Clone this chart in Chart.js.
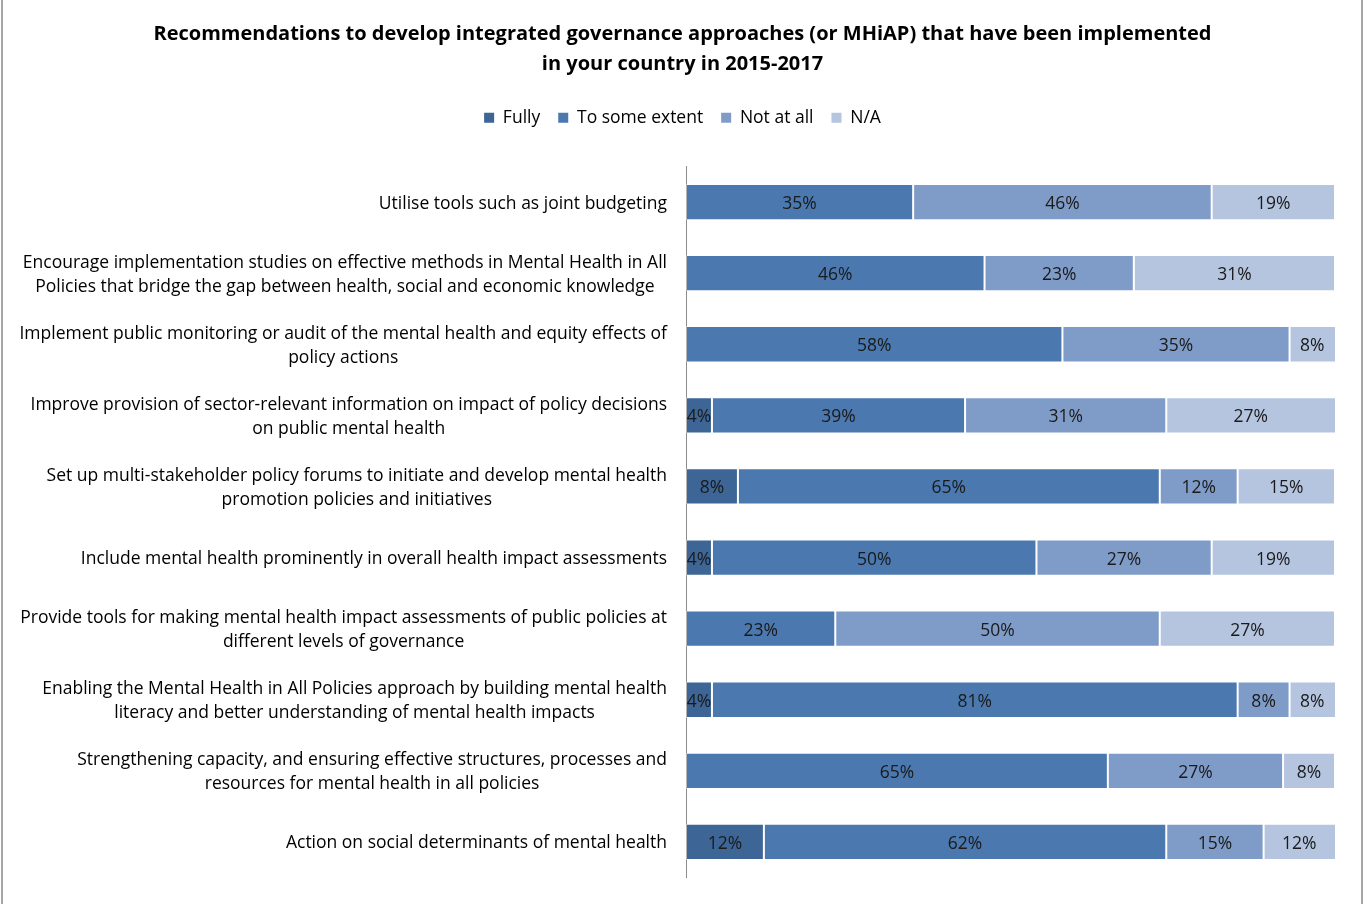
<!DOCTYPE html>
<html>
<head>
<meta charset="utf-8">
<script src="https://cdn.jsdelivr.net/npm/chart.js@4.4.1/dist/chart.umd.min.js"></script>
<style>
  html, body { margin: 0; padding: 0; background: #fff; }
  #wrap { width: 1364px; height: 904px; position: relative; }
</style>
</head>
<body>
<div id="wrap"><canvas id="myChart"></canvas></div>
<script>
// categories, top to bottom (each entry = lines of the axis label)
const categories = [
  ['Utilise tools such as joint budgeting'],
  ['Encourage implementation studies on effective methods in Mental Health in All', 'Policies that bridge the gap between health, social and economic knowledge'],
  ['Implement public monitoring or audit of the mental health and equity effects of', 'policy actions'],
  ['Improve provision of sector-relevant information on impact of policy decisions', 'on public mental health'],
  ['Set up multi-stakeholder policy forums to initiate and develop mental health', 'promotion policies and initiatives'],
  ['Include mental health prominently in overall health impact assessments'],
  ['Provide tools for making mental health impact assessments of public policies at', 'different levels of governance'],
  ['Enabling the Mental Health in All Policies approach by building mental health', 'literacy and better understanding of mental health impacts'],
  ['Strengthening capacity, and ensuring effective structures, processes and', 'resources for mental health in all policies'],
  ['Action on social determinants of mental health']
];

// shares in %
const fully         = [0, 0, 0, 4, 8, 4, 0, 4, 0, 12];
const toSomeExtent  = [35, 46, 58, 39, 65, 50, 23, 81, 65, 62];
const notAtAll      = [46, 23, 35, 31, 12, 27, 50, 8, 27, 15];
const notApplicable = [19, 31, 8, 27, 15, 19, 27, 8, 8, 12];

const seriesNames  = ['Fully', 'To some extent', 'Not at all', 'N/A'];
const seriesColors = ['#3d6595', '#4a78af', '#7f9cc8', '#b5c4df'];

const FONT = '"Open Sans"';
const TEXT_SIZE = 17.5;

// white background + thin grey frame on the sides
const frame = {
  id: 'frame',
  beforeDraw(chart) {
    const {ctx, width, height} = chart;
    ctx.save();
    ctx.fillStyle = '#fff';
    ctx.fillRect(0, 0, width, height);
    ctx.strokeStyle = '#a6a6a6';
    ctx.lineWidth = 2;
    ctx.beginPath();
    ctx.moveTo(2, 0); ctx.lineTo(2, height);
    ctx.moveTo(width - 2, 0); ctx.lineTo(width - 2, height);
    ctx.stroke();
    ctx.restore();
  }
};

// category labels: block right aligned, lines centred inside the block
const categoryLabels = {
  id: 'categoryLabels',
  afterDraw(chart) {
    const {ctx, chartArea} = chart;
    const yScale = chart.scales.y;
    ctx.save();
    ctx.font = TEXT_SIZE + 'px ' + FONT;
    ctx.fillStyle = '#000';
    ctx.textAlign = 'center';
    ctx.textBaseline = 'middle';
    categories.forEach((lines, i) => {
      const yc = yScale.getPixelForValue(i) + 1.5;
      const w = Math.max(...lines.map(l => ctx.measureText(l).width));
      const xc = chartArea.left - 19 - w / 2;
      lines.forEach((l, k) => {
        ctx.fillText(l, xc, yc + (k - (lines.length - 1) / 2) * 24);
      });
    });
    ctx.restore();
  }
};

// percentage inside each segment
const barLabels = {
  id: 'barLabels',
  afterDatasetsDraw(chart) {
    const {ctx, chartArea} = chart;
    ctx.save();
    ctx.font = TEXT_SIZE + 'px ' + FONT;
    ctx.fillStyle = '#1a1a1a';
    ctx.textAlign = 'center';
    ctx.textBaseline = 'middle';
    chart.data.datasets.forEach((ds, di) => {
      chart.getDatasetMeta(di).data.forEach((bar, i) => {
        const v = ds.data[i];
        if (!v) return;
        const x0 = Math.max(Math.min(bar.base, bar.x), chartArea.left);
        const x1 = Math.min(Math.max(bar.base, bar.x), chartArea.right);
        ctx.fillText(v + '%', (x0 + x1) / 2, bar.y + 2);
      });
    });
    ctx.restore();
  }
};

const seriesData = [fully, toSomeExtent, notAtAll, notApplicable];

let ctx = document.getElementById('myChart').getContext('2d');
ctx.canvas.width = 1364;
ctx.canvas.height = 904;

let myChart = new Chart(ctx, {
  type: 'bar',
  data: {
    labels: categories.map(c => c.join(' ')),
    datasets: seriesData.map((d, k) => ({
      label: seriesNames[k],
      data: d,
      backgroundColor: seriesColors[k],
      borderColor: 'rgba(255,255,255,0.35)',
      borderWidth: 1,
      borderSkipped: false,
      categoryPercentage: 1,
      barPercentage: 0.51
    }))
  },
  plugins: [frame, categoryLabels, barLabels],
  options: {
    responsive: false,
    maintainAspectRatio: false,
    animation: false,
    indexAxis: 'y',
    layout: {
      padding: { left: 30, right: 29, top: 0, bottom: 26.5 }
    },
    plugins: {
      title: {
        display: true,
        text: [
          'Recommendations to develop integrated governance approaches (or MHiAP) that have been implemented',
          'in your country in 2015-2017'
        ],
        color: '#000',
        font: { family: FONT, size: 20, weight: 'bold', lineHeight: 1.5 },
        padding: { top: 19.5, bottom: 11.5 }
      },
      legend: {
        display: true,
        position: 'top',
        labels: {
          color: '#000',
          font: { family: FONT, size: TEXT_SIZE },
          boxWidth: 10,
          boxHeight: 10,
          padding: 18,
          generateLabels(chart) {
            return Chart.defaults.plugins.legend.labels.generateLabels(chart)
              .map(item => Object.assign(item, { lineWidth: 0 }));
          }
        }
      },
      tooltip: { enabled: false }
    },
    scales: {
      x: {
        // kept at the top only to hold the gap under the legend
        position: 'top',
        stacked: true,
        min: 0,
        max: 100,
        grid: { display: false },
        border: { display: false },
        ticks: { display: false },
        afterFit(scale) { scale.height = 30; }
      },
      y: {
        stacked: true,
        grid: { display: false },
        border: { display: true, color: '#8c8c8c', width: 1 },
        ticks: { display: false },
        afterFit(scale) { scale.width = 656; }
      }
    }
  }
});
</script>
</body>
</html>
